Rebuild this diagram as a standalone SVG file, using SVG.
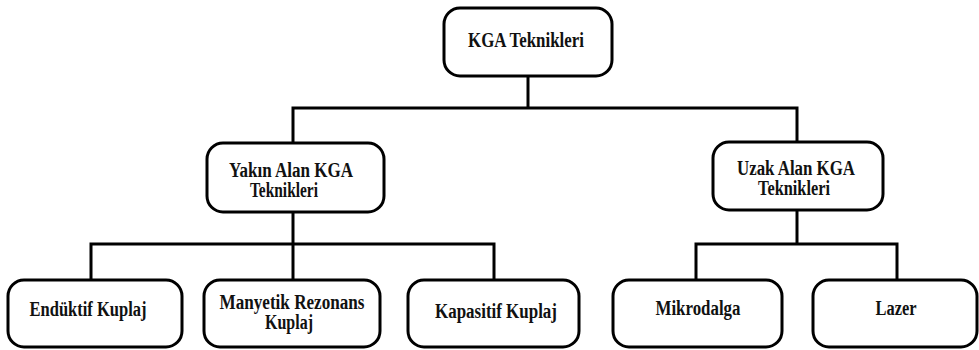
<svg xmlns="http://www.w3.org/2000/svg" width="979" height="350" viewBox="0 0 979 350">
<style>
.box{fill:#fff;stroke:#000;stroke-width:3}
.t{font-family:"Liberation Serif","Times New Roman",serif;font-weight:bold;font-size:20px;fill:#111;text-anchor:middle}
.c{fill:none;stroke:#000;stroke-width:3}
</style>
<rect width="979" height="350" fill="#fff"/>
<g id="connectors">
<path class="c" d="M528,76 V108"/>
<path class="c" d="M293,143 V108 H797 V142"/>
<path class="c" d="M293,212 V244"/>
<path class="c" d="M91,280 V244 H494 V280"/>
<path class="c" d="M293,244 V280"/>
<path class="c" d="M797,210 V244"/>
<path class="c" d="M696,280 V244 H897 V280"/>
</g>
<g id="kga">
<rect class="box" x="444" y="8" width="168" height="68" rx="16"/>
<text class="t" x="526" y="47" textLength="116" lengthAdjust="spacingAndGlyphs">KGA Teknikleri</text>
</g>
<g id="yakin">
<rect class="box" x="207" y="143" width="177" height="69" rx="16"/>
<text class="t" x="291" y="177" textLength="124" lengthAdjust="spacingAndGlyphs">Yakın Alan KGA</text>
<text class="t" x="284" y="197" textLength="68" lengthAdjust="spacingAndGlyphs">Teknikleri</text>
</g>
<g id="uzak">
<rect class="box" x="713" y="142" width="170" height="68" rx="16"/>
<text class="t" x="796" y="175" textLength="118" lengthAdjust="spacingAndGlyphs">Uzak Alan KGA</text>
<text class="t" x="794" y="195" textLength="72" lengthAdjust="spacingAndGlyphs">Teknikleri</text>
</g>
<g id="enduktif">
<rect class="box" x="8" y="280" width="174" height="67" rx="16"/>
<text class="t" x="88" y="316" textLength="117" lengthAdjust="spacingAndGlyphs">Endüktif Kuplaj</text>
</g>
<g id="manyetik">
<rect class="box" x="204" y="280" width="176" height="67" rx="16"/>
<text class="t" x="292" y="309" textLength="145" lengthAdjust="spacingAndGlyphs">Manyetik Rezonans</text>
<text class="t" x="289" y="329" textLength="48" lengthAdjust="spacingAndGlyphs">Kuplaj</text>
</g>
<g id="kapasitif">
<rect class="box" x="408" y="280" width="171" height="67" rx="16"/>
<text class="t" x="496" y="318" textLength="122" lengthAdjust="spacingAndGlyphs">Kapasitif Kuplaj</text>
</g>
<g id="mikrodalga">
<rect class="box" x="613" y="280" width="169" height="67" rx="16"/>
<text class="t" x="698" y="315" textLength="85" lengthAdjust="spacingAndGlyphs">Mikrodalga</text>
</g>
<g id="lazer">
<rect class="box" x="813" y="280" width="164" height="67" rx="16"/>
<text class="t" x="896" y="315" textLength="41" lengthAdjust="spacingAndGlyphs">Lazer</text>
</g>
</svg>
